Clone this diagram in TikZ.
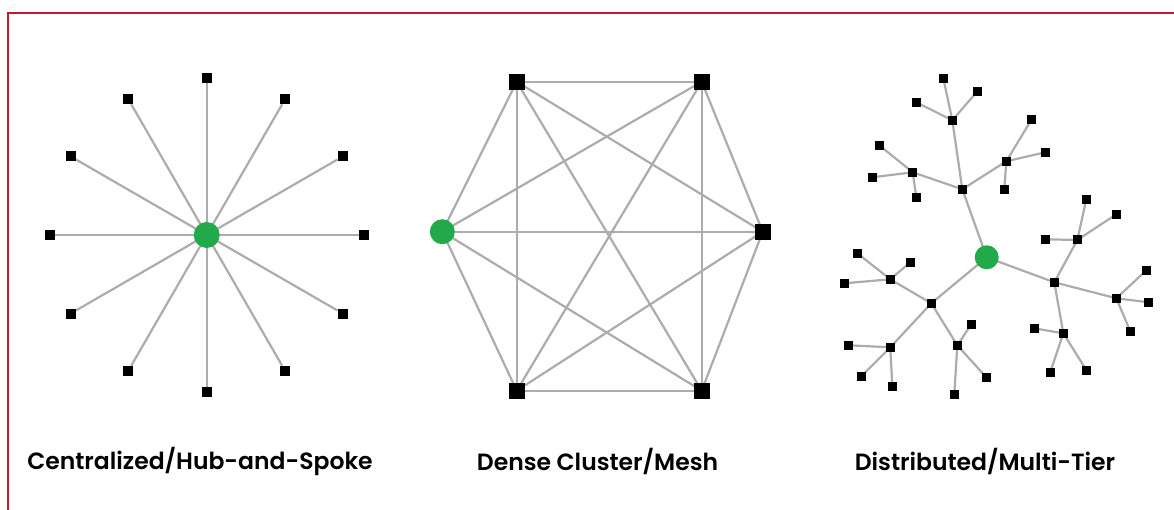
\documentclass[tikz,border=0pt]{standalone}
\usepackage{fontspec}
\setmainfont{Poppins}[BoldFont={Poppins SemiBold}]
\usetikzlibrary{backgrounds,calc}
\definecolor{frame}{HTML}{C01A2C}
\definecolor{edge}{HTML}{AEABAE}
\definecolor{hubgreen}{HTML}{22A94A}
\tikzset{
  sq/.style={rectangle, fill=black, inner sep=0pt, minimum size=10pt},
  bigsq/.style={rectangle, fill=black, inner sep=0pt, minimum size=16pt},
  smsq/.style={rectangle, fill=black, inner sep=0pt, minimum size=9pt},
  hub/.style={circle, fill=hubgreen, inner sep=0pt, minimum size=26pt},
  link/.style={draw=edge, line width=2.2pt},
  title/.style={font=\bfseries\fontsize{23.5}{28}\selectfont, text=black}
}
\begin{document}
\begin{tikzpicture}[x=1pt,y=-1pt]
\useasboundingbox (0,0) rectangle (1174,510);
\draw[frame, line width=2pt] (8,510) -- (8,13) -- (1174,13);

% ---------- Panel 1: hub and spoke ----------
\node[hub] (h1) at (206.7,235) {};
\foreach \i in {0,...,11} {
  \node[sq] (s\i) at ($(206.7,235)+({157*cos(30*\i)},{157*sin(30*\i)})$) {};
}
\begin{scope}[on background layer]
\foreach \i in {0,...,11} { \draw[link] (h1.center) -- (s\i); }
\end{scope}
\node[title] (t1) at (200,461) {Centralized/Hub-and-Spoke};

% ---------- Panel 2: mesh ----------
\node[hub, minimum size=25pt] (m0) at (442.3,231.7) {};
\node[bigsq] (m1) at (516.7,81.7) {};
\node[bigsq] (m2) at (701.7,81.7) {};
\node[bigsq] (m3) at (762.7,231.7) {};
\node[bigsq] (m4) at (701.7,390.7) {};
\node[bigsq] (m5) at (516.7,390.7) {};
\begin{scope}[on background layer]
\foreach \a/\b in {m0/m1,m0/m2,m0/m3,m0/m4,m0/m5,m1/m2,m1/m3,m1/m4,m1/m5,m2/m3,m2/m4,m2/m5,m3/m4,m3/m5,m4/m5}
  { \draw[link] (\a.center) -- (\b.center); }
\end{scope}
\node[title] (t2) at (597.5,461) {Dense Cluster/Mesh};

% ---------- Panel 3: multi-tier tree ----------
\node[hub, minimum size=24pt] (r) at (986.7,257.3) {};
% upper branch
\node[smsq] (A) at (962.3,189.3) {};
\node[smsq] (A1) at (952.3,120.3) {};
\node[smsq] (A11) at (943.3,78.3) {};
\node[smsq] (A12) at (977.3,91.3) {};
\node[smsq] (A13) at (916.3,102.3) {};
\node[smsq] (A2) at (912.7,172.3) {};
\node[smsq] (A21) at (879.3,145.3) {};
\node[smsq] (A22) at (872.3,177.3) {};
\node[smsq] (A23) at (916.3,197.3) {};
\node[smsq] (A3) at (1006.3,161.3) {};
\node[smsq] (A31) at (1031.3,120) {};
\node[smsq] (A32) at (1045.3,152.3) {};
\node[smsq] (A33) at (1004.3,189.3) {};
% right branch
\node[smsq] (B) at (1054.3,282.3) {};
\node[smsq] (B1) at (1077.3,240) {};
\node[smsq] (B11) at (1086.3,199.3) {};
\node[smsq] (B12) at (1116.3,214.3) {};
\node[smsq] (B13) at (1045.3,239.3) {};
\node[smsq] (B2) at (1116.3,298.3) {};
\node[smsq] (B21) at (1146.3,270.3) {};
\node[smsq] (B22) at (1148.3,302.3) {};
\node[smsq] (B23) at (1130.3,331.3) {};
\node[smsq] (B3) at (1063.3,333.3) {};
\node[smsq] (B31) at (1034.3,328.3) {};
\node[smsq] (B32) at (1050.3,372) {};
\node[smsq] (B33) at (1086.3,370) {};
% lower-left branch
\node[smsq] (C) at (931.3,303.3) {};
\node[smsq] (C1) at (890.3,279.3) {};
\node[smsq] (C11) at (857.3,253.3) {};
\node[smsq] (C12) at (910.3,262.3) {};
\node[smsq] (C13) at (844.3,283.3) {};
\node[smsq] (C2) at (890.3,347.3) {};
\node[smsq] (C21) at (848.3,345.3) {};
\node[smsq] (C22) at (861.3,376.3) {};
\node[smsq] (C23) at (892.3,386.3) {};
\node[smsq] (C3) at (957.3,345.3) {};
\node[smsq] (C31) at (971.3,324.3) {};
\node[smsq] (C32) at (986.3,377.3) {};
\node[smsq] (C33) at (954.3,394.3) {};
\begin{scope}[on background layer]
\foreach \p in {A,B,C} {
  \draw[link] (r.center) -- (\p.center);
  \foreach \k in {1,2,3} {
    \draw[link] (\p.center) -- (\p\k.center);
    \foreach \m in {1,2,3} { \draw[link] (\p\k.center) -- (\p\k\m.center); }
  }
}
\end{scope}
\node[title] (t3) at (985,461) {Distributed/Multi-Tier};
\end{tikzpicture}
\end{document}
